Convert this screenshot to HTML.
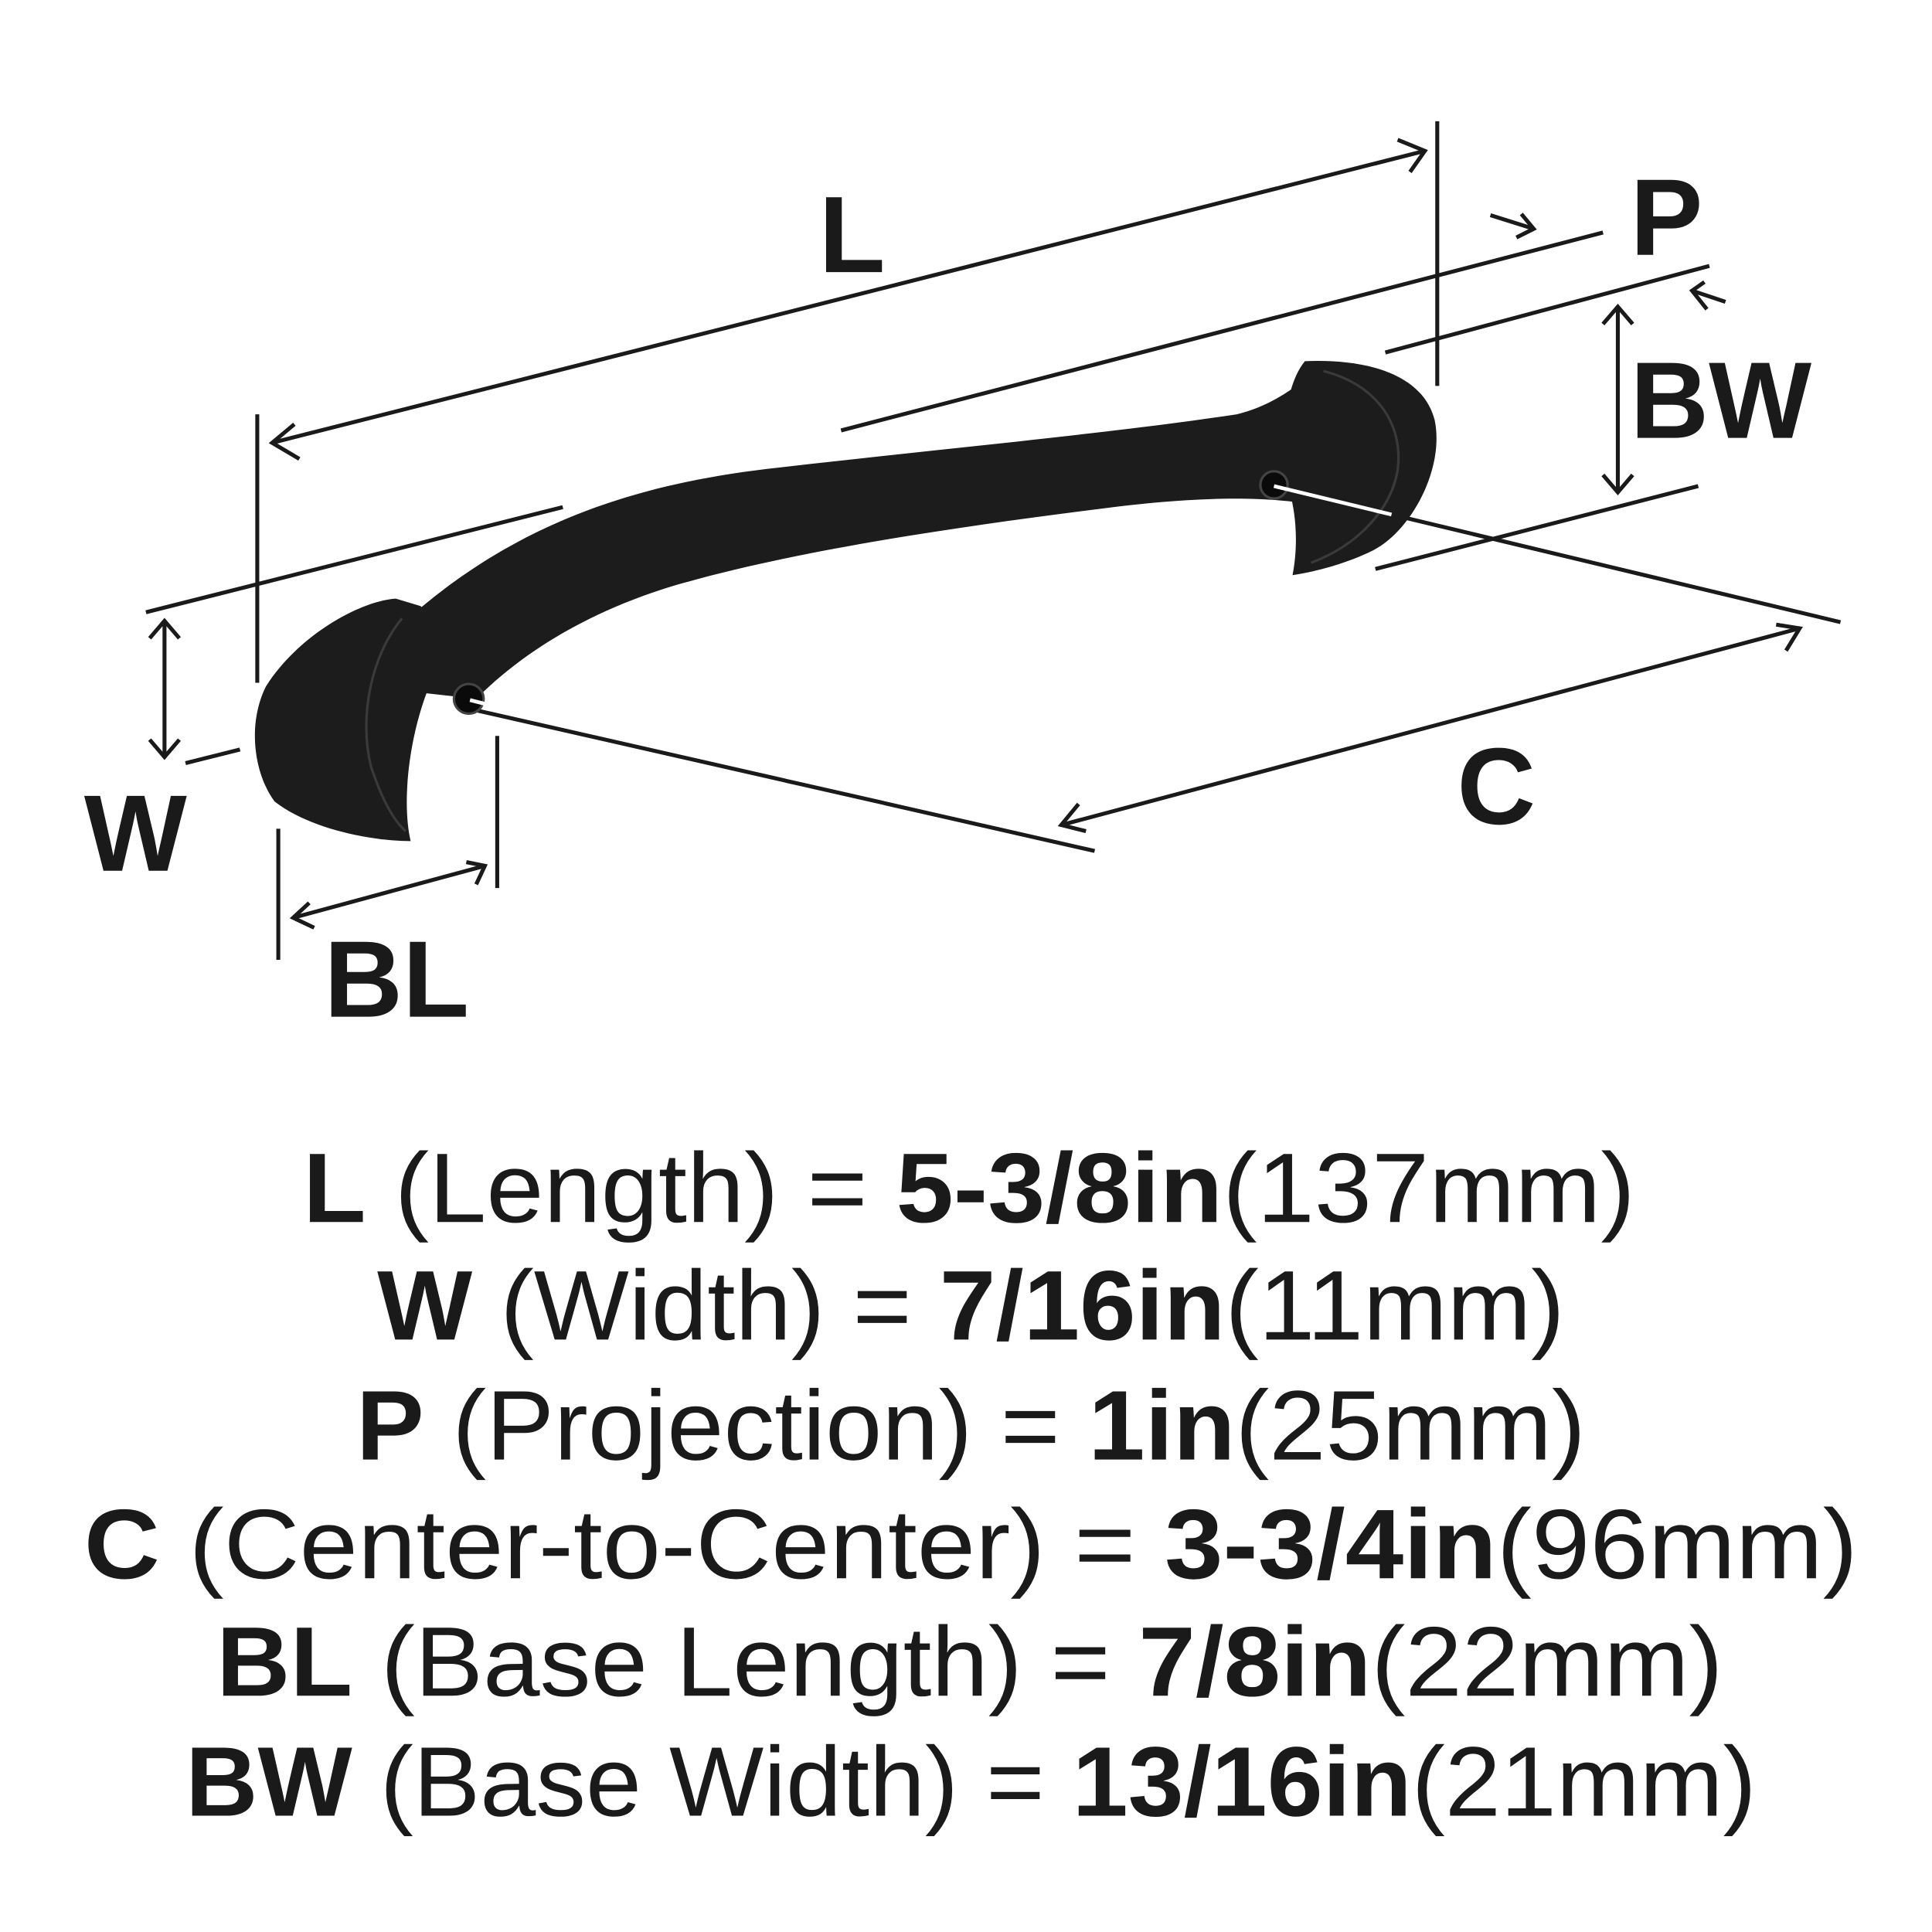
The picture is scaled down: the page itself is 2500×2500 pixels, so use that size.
<!DOCTYPE html>
<html><head><meta charset="utf-8"><style>
html,body{margin:0;padding:0;background:#fff;}
svg{display:block;}
</style></head><body>
<svg width="2500" height="2500" viewBox="0 0 1562 1562" xmlns="http://www.w3.org/2000/svg">
<g stroke="#1a1a1a" stroke-width="3.2" fill="none" stroke-linecap="butt">
  <line x1="208" y1="335" x2="208" y2="552"/>
  <line x1="1162" y1="98" x2="1162" y2="312"/>
  <line x1="220" y1="358" x2="1152" y2="122"/>
  <polyline points="238,343 220,358 242,371"/>
  <polyline points="1130,113 1152,122 1140,139"/>
  <line x1="118" y1="495" x2="455" y2="410"/>
  <line x1="150" y1="617" x2="194" y2="606"/>
  <line x1="133" y1="502" x2="133" y2="612"/>
  <polyline points="121,516 133,502 145,516"/>
  <polyline points="121,598 133,612 145,598"/>
  <line x1="680" y1="348" x2="1296" y2="188"/>
  <line x1="1205" y1="174" x2="1240" y2="185"/>
  <polyline points="1230,173 1240,185 1226,192"/>
  <line x1="1120" y1="285" x2="1382" y2="215"/>
  <line x1="1368" y1="235" x2="1395" y2="244"/>
  <polyline points="1378,228 1368,235 1380,250"/>
  <line x1="1308" y1="248" x2="1308" y2="398"/>
  <polyline points="1296,262 1308,248 1320,262"/>
  <polyline points="1296,384 1308,398 1320,384"/>
  <line x1="1112" y1="460" x2="1373" y2="393"/>
  <line x1="1025" y1="392" x2="1488" y2="503"/>
  <line x1="375" y1="572" x2="885" y2="688"/>
  <line x1="858" y1="667" x2="1455" y2="508"/>
  <polyline points="872,650 858,667 878,672"/>
  <polyline points="1436,505 1455,508 1444,526"/>
  <line x1="225" y1="670" x2="225" y2="776"/>
  <line x1="402" y1="595" x2="402" y2="718"/>
  <line x1="237" y1="742" x2="392" y2="700"/>
  <polyline points="250,730 237,742 254,750"/>
  <polyline points="377,697 392,700 385,715"/>
</g>
<g fill="#1c1c1c">
  <path d="M330,500 C410,430 500,392 630,378 C770,362 900,350 1000,335 C1040,325 1060,300 1075,292 L1120,300 L1105,420 C1060,402 1000,398 900,410 C780,425 640,445 540,475 C470,497 420,530 385,565 L340,560 Z"/>
  <path d="M320,484 C290,486 240,515 215,555 C200,585 205,625 222,648 C250,670 300,680 332,680 C325,650 330,600 345,560 C355,530 350,500 340,490 Z"/>
  <path d="M1055,292 C1100,290 1150,300 1160,340 C1168,380 1140,430 1110,445 C1090,455 1065,462 1045,465 C1050,440 1048,410 1040,390 C1035,350 1040,310 1055,292 Z"/>
</g>
<g fill="none" stroke="#3a3a3a" stroke-width="2">
  <path d="M325,500 C300,530 290,580 300,620 C310,650 320,665 328,672"/>
  <path d="M1070,300 C1110,310 1135,340 1130,380 C1125,410 1100,440 1060,455"/>
</g>
<circle cx="379" cy="565" r="12" fill="#0a0a0a" stroke="#444" stroke-width="2"/>
<circle cx="1030" cy="392" r="11" fill="#0a0a0a" stroke="#444" stroke-width="2"/>
<g stroke="#fff" stroke-width="3">
  <line x1="380" y1="566" x2="400" y2="571"/>
  <line x1="1030" y1="393" x2="1125" y2="416"/>
</g>
<g font-family="Liberation Sans, sans-serif" font-weight="bold" fill="#1a1a1a" font-size="88">
  <text x="662" y="220">L</text>
  <text x="1318" y="206">P</text>
  <text x="1318" y="354">BW</text>
  <text x="68" y="704">W</text>
  <text x="1178" y="666">C</text>
  <text x="262" y="822">BL</text>
</g>
<g font-family="Liberation Sans, sans-serif" fill="#1a1a1a" font-size="80">
  <text x="245" y="988" textLength="1077" lengthAdjust="spacingAndGlyphs"><tspan font-weight="bold">L</tspan> (Length) = <tspan font-weight="bold">5-3/8in</tspan>(137mm)</text>
  <text x="305" y="1083" textLength="960" lengthAdjust="spacingAndGlyphs"><tspan font-weight="bold">W</tspan> (Width) = <tspan font-weight="bold">7/16in</tspan>(11mm)</text>
  <text x="288" y="1180" textLength="994" lengthAdjust="spacingAndGlyphs"><tspan font-weight="bold">P</tspan> (Projection) = <tspan font-weight="bold">1in</tspan>(25mm)</text>
  <text x="68" y="1276" textLength="1434" lengthAdjust="spacingAndGlyphs"><tspan font-weight="bold">C</tspan> (Center-to-Center) = <tspan font-weight="bold">3-3/4in</tspan>(96mm)</text>
  <text x="175" y="1371" textLength="1218" lengthAdjust="spacingAndGlyphs"><tspan font-weight="bold">BL</tspan> (Base Length) = <tspan font-weight="bold">7/8in</tspan>(22mm)</text>
  <text x="150" y="1468" textLength="1270" lengthAdjust="spacingAndGlyphs"><tspan font-weight="bold">BW</tspan> (Base Width) = <tspan font-weight="bold">13/16in</tspan>(21mm)</text>
</g>
</svg>
</body></html>
